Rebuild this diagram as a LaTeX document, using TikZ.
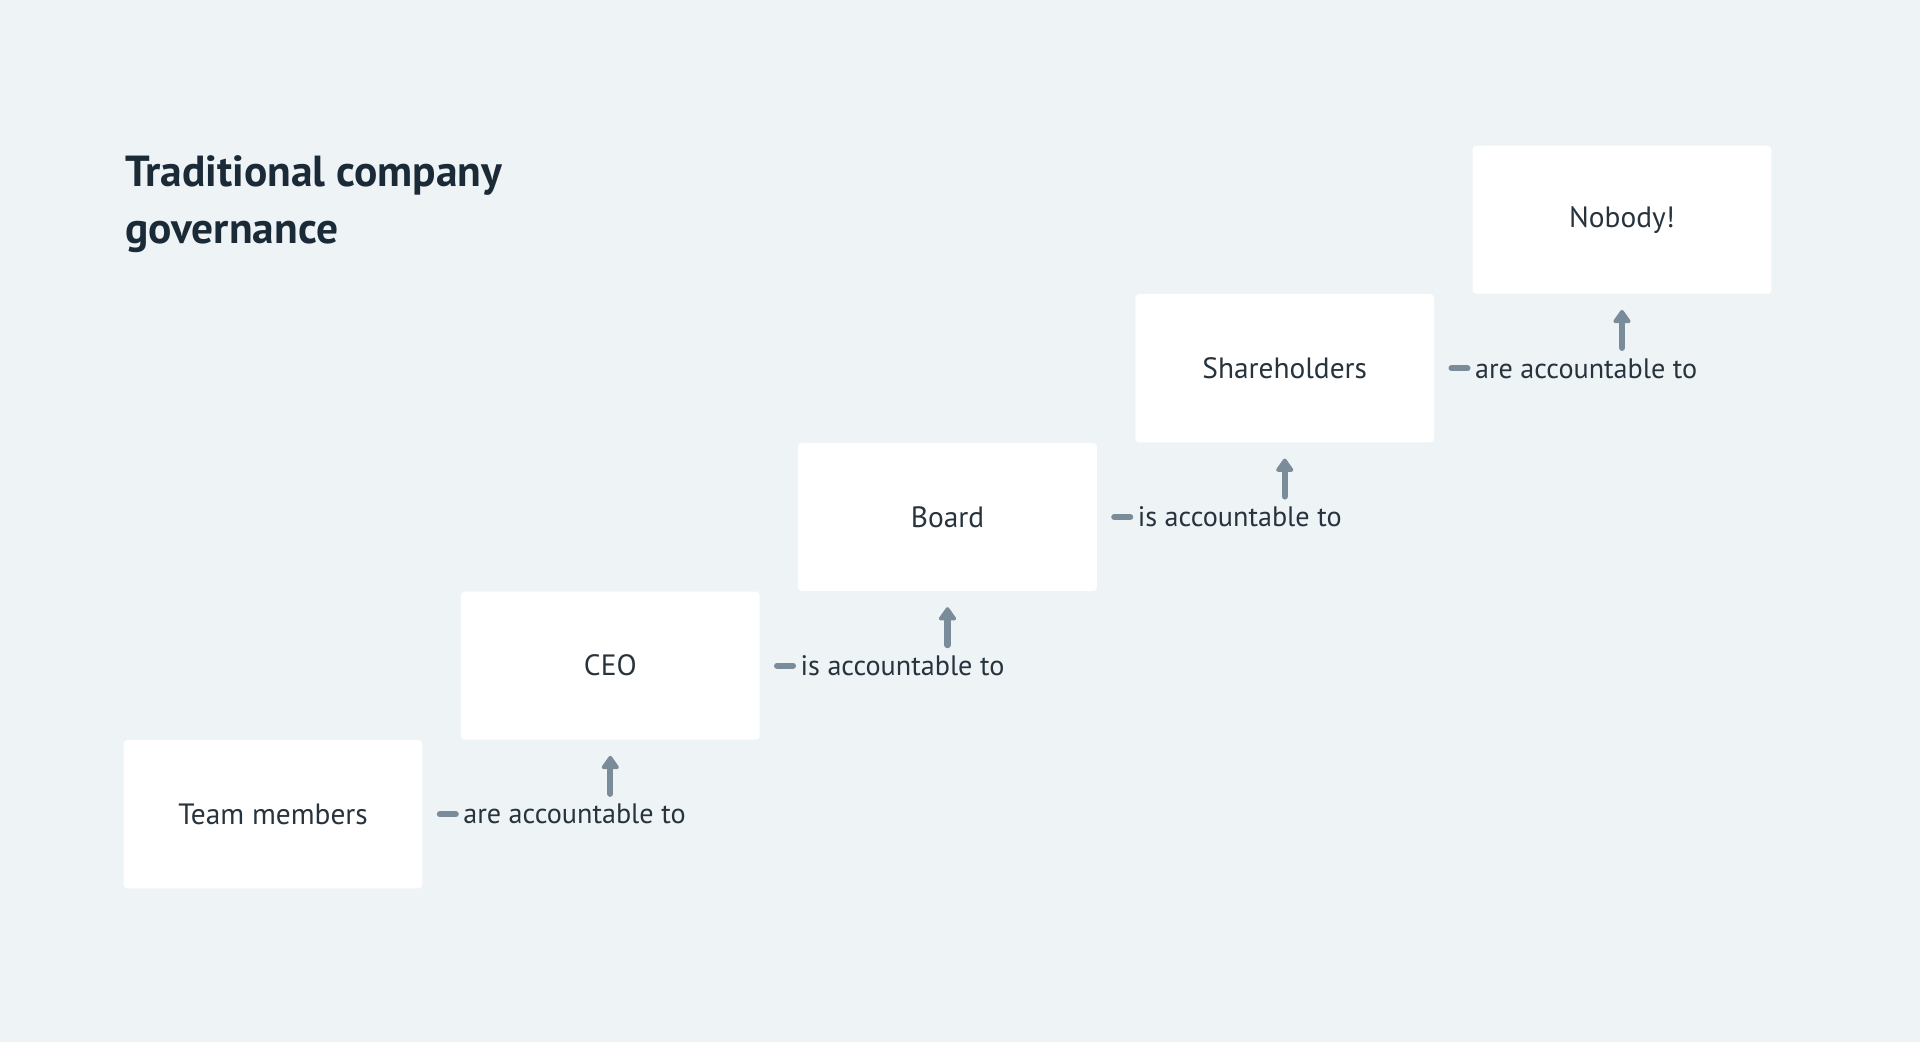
\documentclass[tikz,border=0pt]{standalone}
\usepackage{fontspec}
\setmainfont{PT Sans}
\usepackage{tikz}
\usetikzlibrary{positioning,arrows.meta}
\definecolor{bgc}{HTML}{EEF3F6}
\definecolor{ink}{HTML}{27333D}
\definecolor{titleink}{HTML}{1B2A37}
\definecolor{slate}{HTML}{7A8C99}

\begin{document}
\begin{tikzpicture}[x=1pt,y=1pt,node distance=0pt and 31pt,
    main/.style={minimum width=244pt, minimum height=121pt, inner sep=0pt, fill=white, rounded corners=3pt, text=ink, font=\fontsize{24}{28}\selectfont},
    tag/.style={anchor=west, inner sep=0pt, text=ink, font=\fontsize{23}{27}\selectfont},
    bar/.style={draw=slate, line width=5pt, line cap=round},
    up/.style={-{Triangle[width=16pt,length=12pt,round]}, color=slate, line width=5pt, line cap=round, shorten >=13pt}]
    \fill[bgc] (0,0) rectangle (1568,851);
    \useasboundingbox (0,0) rectangle (1568,851);
    % title
    \node[anchor=base west, align=left, inner sep=0pt, text=titleink, font=\fontsize{35.5}{47}\bfseries\selectfont] (title) at (102,652) {Traditional company\\governance};
    % the steps
    \node[main] (team) at (223,186) {Team members};
    \node[main] (ceo) [above right=of team] {CEO};
    \node[main] (board) [above right=of ceo] {Board};
    \node[main] (share) [above right=of board] {Shareholders};
    \node[main] (nobody) [above right=of share] {Nobody!};
    % the labels
    \node[tag] (t1) [right=33pt of team] {are accountable to};
    \node[tag] (t2) [right=33pt of ceo] {is accountable to};
    \node[tag] (t3) [right=33pt of board] {is accountable to};
    \node[tag] (t4) [right=33pt of share] {are accountable to};
    \draw[bar] ([xshift=-19pt]t1.west) -- ([xshift=-6pt]t1.west);
    \draw[bar] ([xshift=-19pt]t2.west) -- ([xshift=-6pt]t2.west);
    \draw[bar] ([xshift=-19pt]t3.west) -- ([xshift=-6pt]t3.west);
    \draw[bar] ([xshift=-19pt]t4.west) -- ([xshift=-6pt]t4.west);
    % the arrows
    \coordinate (a1) at ([yshift=-44pt]ceo.south);
    \coordinate (a2) at ([yshift=-44pt]board.south);
    \coordinate (a3) at ([yshift=-44pt]share.south);
    \coordinate (a4) at ([yshift=-44pt]nobody.south);
    \path[up] (a1) edge (ceo)
              (a2) edge (board)
              (a3) edge (share)
              (a4) edge (nobody);
\end{tikzpicture}
\end{document}
